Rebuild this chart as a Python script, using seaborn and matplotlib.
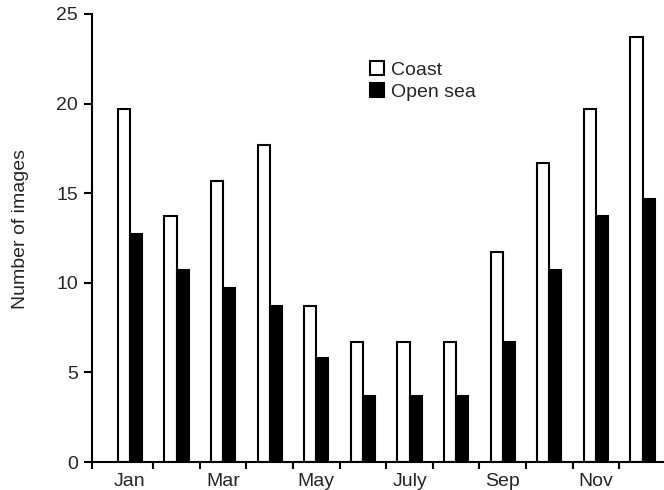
import pandas as pd
import numpy as np
from matplotlib import pyplot as plt
import seaborn as sns

# ---------------- data ----------------
months = ['Jan', 'Feb', 'Mar', 'Apr', 'May', 'Jun',
          'Jul', 'Aug', 'Sep', 'Oct', 'Nov', 'Dec']
month_labels = ['Jan', '', 'Mar', '', 'May', '', 'July', '', 'Sep', '', 'Nov', '']
coast = [19.7, 13.7, 15.7, 17.7, 8.7, 6.7, 6.7, 6.7, 11.7, 16.7, 19.7, 23.7]
open_sea = [12.7, 10.7, 9.7, 8.7, 5.8, 3.7, 3.7, 3.7, 6.7, 10.7, 13.7, 14.7]
y_ticks = [0, 5, 10, 15, 20, 25]

df = pd.DataFrame({'Month': months * 2,
                   'Images': coast + open_sea,
                   'Site': ['Coast'] * 12 + ['Open sea'] * 12})

sns.set_style("ticks")
plt.rcParams['font.family'] = ['Liberation Sans Narrow', 'Liberation Sans', 'DejaVu Sans']
fs = 14

fig = plt.figure(figsize=(6.64, 4.90), dpi=100)
ax = fig.add_axes([92 / 664, 28 / 490, 572 / 664, 448 / 490])

sns.barplot(data=df, x='Month', y='Images', hue='Site', order=months,
            palette={'Coast': 'white', 'Open sea': 'black'},
            edgecolor='black', linewidth=1.5, width=0.52, gap=0, ax=ax)

ax.set_xlim(-0.815, 11.46)
ax.set_ylim(0, 25)
ax.set_yticks(y_ticks)
ax.set_yticklabels([str(t) for t in y_ticks], fontsize=fs)

# month names at group centres, tick marks at the boundaries
ax.set_xticks(range(12))
ax.set_xticklabels(month_labels, fontsize=fs)
ax.tick_params(axis='x', which='major', length=0, pad=8)
ax.set_xticks([-0.815] + [i + 0.5 for i in range(11)], minor=True)
ax.tick_params(axis='x', which='minor', length=5, width=1.5, color='black')
ax.tick_params(axis='y', length=6, width=1.5, color='black', pad=4)

for s in ['top', 'right']:
    ax.spines[s].set_visible(False)
for s in ['left', 'bottom']:
    ax.spines[s].set_linewidth(1.5)
    ax.spines[s].set_color('black')

ax.set_xlabel('')
ax.set_ylabel('Number of images', fontsize=fs)
ax.yaxis.set_label_coords(-0.11, 0.52)

ax.legend(loc='upper left', bbox_to_anchor=(0.472, 0.912), frameon=False,
          fontsize=fs, handlelength=0.75, handleheight=0.75, handletextpad=0.35,
          labelspacing=0.2, borderaxespad=0)

fig.savefig('out.png', dpi=100)
